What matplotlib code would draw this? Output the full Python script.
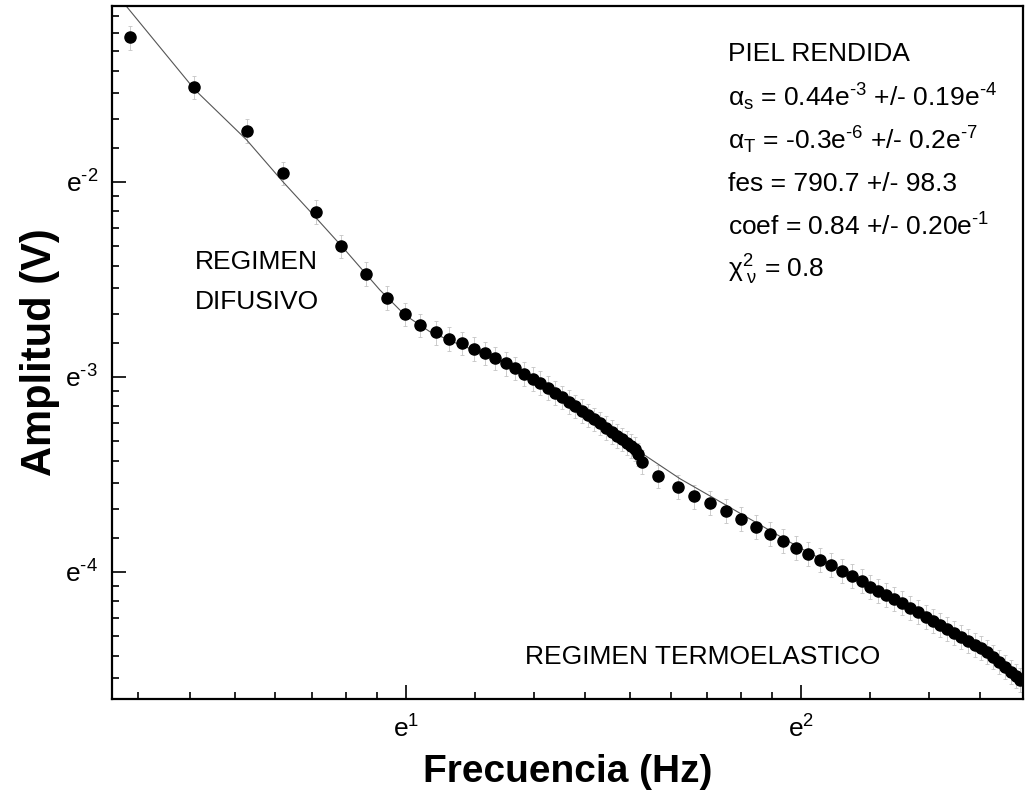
import numpy as np
import matplotlib
matplotlib.use('Agg')
import matplotlib.pyplot as plt
from matplotlib.ticker import FixedLocator, FuncFormatter, NullFormatter

plt.rcParams['font.family'] = ['Liberation Sans', 'DejaVu Sans']
plt.rcParams['mathtext.fontset'] = 'custom'
plt.rcParams['mathtext.rm'] = 'Liberation Sans'
plt.rcParams['mathtext.it'] = 'Liberation Sans'
plt.rcParams['mathtext.bf'] = 'Liberation Sans:bold'

# Datos (exponentes de e: frecuencia y amplitud)
ln_frec = [0.301, 0.465, 0.597, 0.689, 0.774, 0.835, 0.899, 0.953, 0.997, 1.036,
           1.076, 1.109, 1.142, 1.173, 1.201, 1.225, 1.253, 1.276, 1.299, 1.321,
           1.339, 1.359, 1.377, 1.396, 1.413, 1.429, 1.446, 1.461, 1.476, 1.491,
           1.506, 1.522, 1.534, 1.547, 1.560, 1.570, 1.580, 1.588, 1.599,
           1.639, 1.688, 1.730, 1.770, 1.810, 1.848, 1.886, 1.922, 1.954, 1.987,
           2.018, 2.048, 2.076, 2.104, 2.129, 2.154,
           2.175, 2.195, 2.215, 2.235, 2.256, 2.276, 2.296, 2.316, 2.334, 2.352,
           2.370, 2.387, 2.405, 2.423, 2.441, 2.456, 2.471, 2.486, 2.501, 2.516,
           2.532, 2.544, 2.554]
ln_amp = [-1.260, -1.516, -1.738, -1.955, -2.154, -2.330, -2.472, -2.595, -2.678, -2.735,
          -2.773, -2.804, -2.829, -2.856, -2.878, -2.906, -2.932, -2.955, -2.985, -3.010,
          -3.031, -3.056, -3.081, -3.104, -3.128, -3.151, -3.174, -3.197, -3.218, -3.238,
          -3.262, -3.282, -3.303, -3.321, -3.338, -3.354, -3.369, -3.398, -3.436,
          -3.509, -3.563, -3.614, -3.646, -3.687, -3.728, -3.769, -3.805, -3.841, -3.877,
          -3.908, -3.938, -3.964, -3.995, -4.021, -4.046,
          -4.077, -4.097, -4.118, -4.138, -4.159, -4.185, -4.205, -4.231, -4.251, -4.272,
          -4.292, -4.313, -4.333, -4.354, -4.374, -4.390, -4.410, -4.436, -4.462, -4.487,
          -4.513, -4.533, -4.554]

# Curva de ajuste
ln_frec_fit = [0.294, 0.466, 0.597, 0.689, 0.775, 0.846, 0.934, 0.997, 1.061, 1.137,
               1.238, 1.339, 1.441, 1.542, 1.592, 1.694, 1.787, 1.997, 2.175, 2.327,
               2.478, 2.562]
ln_amp_fit = [-1.103, -1.528, -1.785, -2.000, -2.190, -2.349, -2.554, -2.682, -2.769, -2.836,
              -2.913, -3.015, -3.154, -3.297, -3.385, -3.523, -3.631, -3.877, -4.067, -4.231,
              -4.421, -4.564]

err_rel = 0.06

frec = np.exp(ln_frec)
amp = np.exp(ln_amp)

fig = plt.figure(figsize=(10.26, 8.11), dpi=100)
ax = fig.add_axes([0.109, 0.1385, 0.888, 0.8545])

ax.errorbar(frec, amp, yerr=amp * err_rel, fmt='none', ecolor='#c4c4c4',
            elinewidth=0.6, capsize=1.5, capthick=0.6, zorder=1)
ax.plot(np.exp(ln_frec_fit), np.exp(ln_amp_fit), color='#555555', lw=0.8, zorder=2)
ax.plot(frec, amp, 'o', color='black', ms=8, zorder=3)

ax.set_xscale('log', base=np.e)
ax.set_yscale('log', base=np.e)
ax.set_xlim(np.exp(0.256), np.exp(2.562))
ax.set_ylim(np.exp(-4.651), np.exp(-1.097))

def minor_ticks(n0, n1):
    t = []
    for n in range(n0, n1):
        a, b = np.exp(n), np.exp(n + 1)
        for k in range(1, 9):
            t.append(a + k * (b - a) / 9)
    return t

ax.xaxis.set_major_locator(FixedLocator([np.e, np.e ** 2]))
ax.yaxis.set_major_locator(FixedLocator([np.exp(-2), np.exp(-3), np.exp(-4)]))
ax.xaxis.set_minor_locator(FixedLocator(minor_ticks(-1, 4)))
ax.yaxis.set_minor_locator(FixedLocator(minor_ticks(-6, 0)))
fmt = FuncFormatter(lambda v, p: r'e$^{\text{%d}}$' % round(np.log(v)))
ax.xaxis.set_major_formatter(fmt)
ax.yaxis.set_major_formatter(fmt)
ax.xaxis.set_minor_formatter(NullFormatter())
ax.yaxis.set_minor_formatter(NullFormatter())

ax.tick_params(which='both', direction='in', top=False, right=False, width=1.2, labelsize=19)
ax.tick_params(which='major', length=10)
ax.tick_params(which='minor', length=5)
ax.tick_params(axis='x', pad=12)
ax.tick_params(axis='y', pad=10)
for s in ax.spines.values():
    s.set_linewidth(1.6)

ax.set_xlabel('Frecuencia (Hz)', fontsize=28, fontweight='bold', labelpad=8)
ax.set_ylabel('Amplitud (V)', fontsize=30, fontweight='bold', labelpad=4)

# Textos
ax.text(0.091, 0.630, 'REGIMEN', transform=ax.transAxes, fontsize=19,
        va='center', ha='left')
ax.text(0.091, 0.572, 'DIFUSIVO', transform=ax.transAxes, fontsize=19,
        va='center', ha='left')
ax.text(0.453, 0.060, 'REGIMEN TERMOELASTICO', transform=ax.transAxes, fontsize=19,
        va='center', ha='left')

lineas = ['PIEL RENDIDA',
          r'$\alpha_{\rm s}$ = 0.44e$^{\text{-3}}$ +/- 0.19e$^{\text{-4}}$',
          r'$\alpha_{\rm T}$ = -0.3e$^{\text{-6}}$ +/- 0.2e$^{\text{-7}}$',
          'fes = 790.7 +/- 98.3',
          r'coef = 0.84 +/- 0.20e$^{\text{-1}}$',
          r'$\chi^{2}_{\ \nu}$ = 0.8']
for i, t in enumerate(lineas):
    ax.text(0.676, 0.930 - i * 0.0622, t, transform=ax.transAxes, fontsize=19,
            va='center', ha='left')

fig.savefig('out.png', dpi=100)
